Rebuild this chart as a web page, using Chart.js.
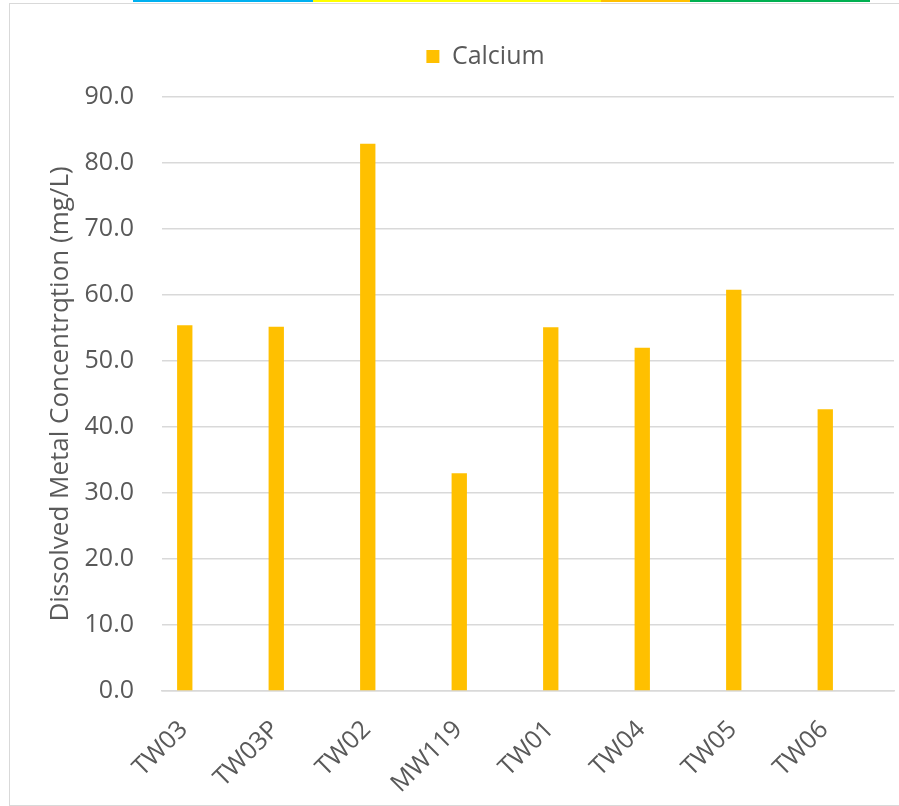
<!DOCTYPE html>
<html>
<head>
<meta charset="utf-8">
<script src="https://cdn.jsdelivr.net/npm/chart.js@4/dist/chart.umd.min.js"></script>
<style>
  html, body { margin: 0; padding: 0; background: #fff; overflow: hidden; width: 899px; height: 806px; }
  .strip { position: absolute; top: 0; height: 2px; }
  #box { position: absolute; left: 9px; top: 3px; width: 958px; height: 803px; border: 1px solid #d9d9d9; box-sizing: border-box; }
  #wrap { position: absolute; left: 0; top: 0; width: 956px; height: 801px; }
</style>
</head>
<body>
<div class="strip" style="left:133px;width:180px;background:#00b0f0"></div>
<div class="strip" style="left:313px;width:288px;background:#ffff00"></div>
<div class="strip" style="left:601px;width:89px;background:#ffc000"></div>
<div class="strip" style="left:690px;width:180px;background:#00b050"></div>
<div id="box"><div id="wrap"><canvas id="grafico"></canvas></div></div>
<script>
// dados
const pocos = ["TW03", "TW03P", "TW02", "MW119", "TW01", "TW04", "TW05", "TW06"];
const calcio = [55.4, 55.2, 82.9, 33.0, 55.1, 52.0, 60.8, 42.7];
const vazio = [null, null, null, null, null, null, null, null]; // séries ocultas do agrupamento
const eixoY = { min: 0, max: 90, passo: 10 };

const cinza = '#595959';
const fonte = 'Open Sans';

// ajusta a legenda: mais espaço abaixo e deslocada para a direita (como no Excel)
const ajusteLegenda = {
  id: 'ajusteLegenda',
  beforeInit(chart) {
    const fitOriginal = chart.legend.fit;
    chart.legend.fit = function () {
      fitOriginal.call(this);
      this.height += 18;
    };
  },
  afterLayout(chart) {
    chart.legend.left += 16;
    chart.legend.right += 16;
  }
};

const ctx = document.getElementById('grafico').getContext('2d');
new Chart(ctx, {
  type: 'bar',
  data: {
    labels: pocos,
    datasets: [
      { label: 'Calcium', data: calcio, backgroundColor: '#ffc000' },
      { label: 's2', data: vazio, backgroundColor: 'transparent' },
      { label: 's3', data: vazio, backgroundColor: 'transparent' },
      { label: 's4', data: vazio, backgroundColor: 'transparent' }
    ]
  },
  plugins: [ajusteLegenda],
  options: {
    responsive: true,
    maintainAspectRatio: false,
    animation: false,
    categoryPercentage: 0.67,
    barPercentage: 1.0,
    layout: { padding: { left: 35, right: 72, top: 30, bottom: 0 } },
    plugins: {
      legend: {
        labels: {
          filter: item => item.text === 'Calcium',
          boxWidth: 13,
          boxHeight: 13,
          color: cinza,
          font: { family: fonte, size: 25 },
          padding: 10
        }
      },
      tooltip: { enabled: false }
    },
    scales: {
      x: {
        grid: { display: false },
        border: { color: '#d9d9d9', width: 1.5 },
        afterFit: escala => { escala.height = 114; },
        ticks: {
          color: cinza,
          font: { family: fonte, size: 25 },
          maxRotation: 45,
          minRotation: 45,
          labelOffset: -24,
          padding: 16
        }
      },
      y: {
        min: eixoY.min,
        max: eixoY.max,
        border: { display: false },
        grid: { color: '#d9d9d9', lineWidth: 1.5, drawTicks: false },
        afterFit: escala => { escala.width = 117; },
        ticks: {
          stepSize: eixoY.passo,
          color: cinza,
          padding: 28,
          font: { family: fonte, size: 25 },
          callback: v => v.toFixed(1)
        },
        title: {
          display: true,
          text: 'Dissolved Metal Concentrqtion (mg/L)',
          color: cinza,
          font: { family: fonte, size: 26 },
          padding: 0
        }
      }
    }
  }
});
</script>
</body>
</html>
